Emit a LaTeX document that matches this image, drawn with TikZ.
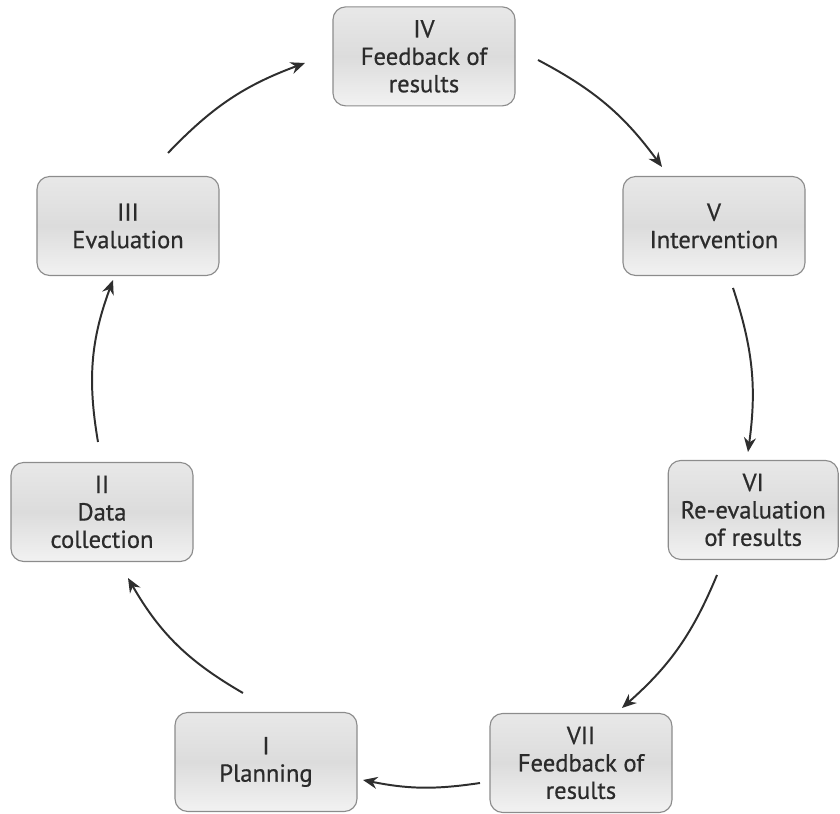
\documentclass[tikz,border=0pt]{standalone}
\usepackage{fontspec}
\setmainfont{PT Sans}
\newfontfamily\stagefont{PT Sans}[FakeBold=0.6]
\usetikzlibrary{arrows.meta,positioning,shadings}
\definecolor{ink}{HTML}{2B2B2B}
\definecolor{boxline}{HTML}{8C8C8C}
\definecolor{boxtop}{HTML}{E8E8E8}
\definecolor{boxmid}{HTML}{DCDCDC}
\definecolor{boxbot}{HTML}{F2F2F2}
\definecolor{flow}{HTML}{2E2E2E}

\begin{document}
\begin{tikzpicture}[
  font=\stagefont\fontsize{17.5}{19.5}\selectfont,
  >={Stealth[length=3.6mm,width=3.0mm]},
  stage/.style={draw=boxline,line width=0.8pt,rounded corners=9pt,
    top color=boxtop,bottom color=boxbot,middle color=boxmid,
    minimum width=4.55cm,minimum height=2.475cm,align=center,text=ink,inner sep=2pt},
  cyclearrow/.style={->,line width=1.4pt,draw=flow},
]
\useasboundingbox (0,0) rectangle (21,20.35);

% ===================== STAGES =====================
\node[stage] (plan) at (6.65,1.3) {I\\Planning};
\node[stage] (data) at (2.55,7.55) {II\\Data\\collection};
\node[stage] (eval) at (3.2,14.7) {III\\Evaluation};
\node[stage] (feed) at (10.6,18.94) {IV\\Feedback of\\results};
\node[stage] (interv) at (17.85,14.7) {V\\Intervention};
\node[stage,minimum width=4.25cm] (reeval) at (18.83,7.6) {VI\\Re-evaluation\\of results};
\node[stage] (feedb) at (14.525,1.275) {VII\\Feedback of\\results};

% ===================== ARROW ENDS =====================
\coordinate (s1) at (4.2,16.525);   \coordinate (e1) at (7.625,18.775);
\coordinate (s2) at (13.45,18.85);  \coordinate (e2) at (16.55,16.175);
\coordinate (s3) at (18.325,13.15); \coordinate (e3) at (18.7,9.05);
\coordinate (s4) at (17.925,5.975); \coordinate (e4) at (15.55,2.65);
\coordinate (s5) at (12.0,0.775);   \coordinate (e5) at (9.075,0.85);
\coordinate (s6) at (6.075,3.025);  \coordinate (e6) at (3.2,5.9);
\coordinate (s7) at (2.45,9.3);     \coordinate (e7) at (2.825,13.35);

% ===================== CYCLE =====================
\draw[cyclearrow] (s1) to[bend left=13] (e1);
\draw[cyclearrow] (s2) to[bend left=13] (e2);
\draw[cyclearrow] (s3) to[bend left=13] (e3);
\draw[cyclearrow] (s4) to[bend left=13] (e4);
\draw[cyclearrow] (s5) to[bend left=10] (e5);
\draw[cyclearrow] (s6) to[bend left=15] (e6);
\draw[cyclearrow] (s7) to[bend left=15] (e7);

\end{tikzpicture}
\end{document}
